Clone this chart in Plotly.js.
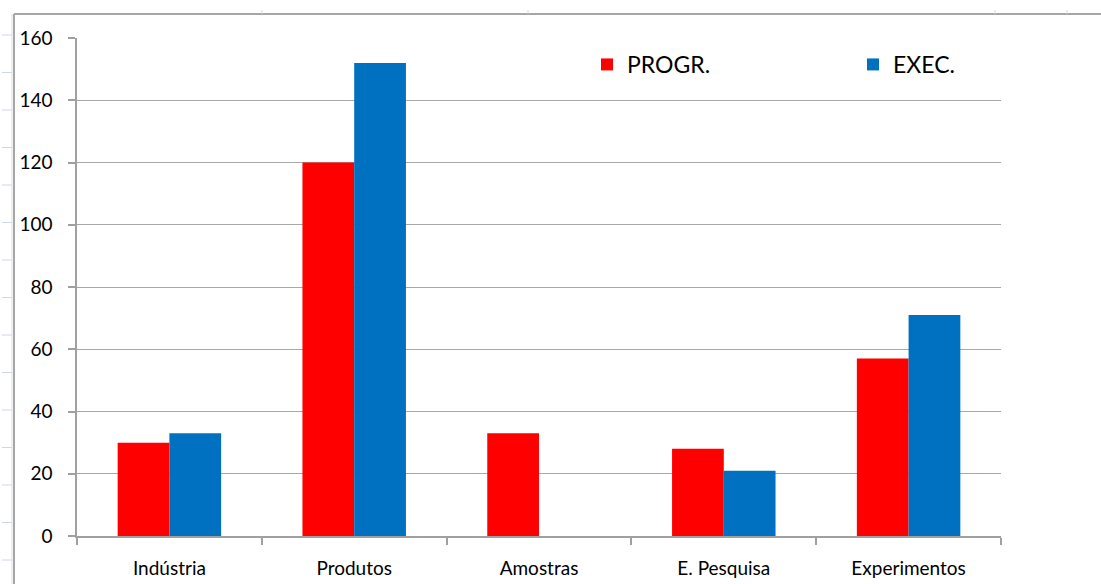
<!DOCTYPE html>
<html><head><meta charset="utf-8">
<script src="https://cdn.plot.ly/plotly-3.0.1.min.js"></script>
<style>html,body{margin:0;padding:0;background:#fff}#c{width:1101px;height:584px}</style>
</head><body><div id="c"></div>
<script>
const categories = ["Indústria", "Produtos", "Amostras", "E. Pesquisa", "Experimentos"];
const progr = [30, 120, 33, 28, 57];
const exec = [33, 152, 0, 21, 71];
const yTicks = [0, 20, 40, 60, 80, 100, 120, 140, 160];

const font = "Lato, 'Open Sans', sans-serif";
const shapes = [
  {type:'line', xref:'paper', yref:'paper', x0:-0.0682, x1:1.11, y0:1.0482, y1:1.0482, line:{color:'#a6a6a6', width:2}},
  {type:'line', xref:'paper', yref:'paper', x0:-0.0682, x1:-0.0682, y0:1.0482, y1:-0.1, line:{color:'#a6a6a6', width:2}},
  {type:'line', xref:'paper', yref:'paper', x0:-0.0704, x1:-0.0704, y0:1.0482, y1:-0.1, line:{color:'#e0e0e8', width:1}}
];
for (let k = 0; k < 15; k++) {
  const yp = 584 - (35 + 37.5 * k);
  const yv = (yp - 48) / 498;
  shapes.push({type:'line', xref:'paper', yref:'paper', x0:-0.0812, x1:-0.0704, y0:yv, y1:yv, line:{color:'#cfd6e4', width:1}});
}
[262, 528, 995, 1067].forEach(px => {
  const xv = (px - 77) / 924;
  shapes.push({type:'line', xref:'paper', yref:'paper', x0:xv, x1:xv, y0:1.0482, y1:1.0562, line:{color:'#cfd6e4', width:1}});
});

const data = [
  {type:'bar', name:'PROGR.', x:categories, y:progr, marker:{color:'#ff0000'}, legend:'legend'},
  {type:'bar', name:'EXEC.', x:categories, y:exec, marker:{color:'#0070c0'}, legend:'legend2'}
];
const legFont = {family:font, size:23, color:'#000'};
const layout = {
  width:1101, height:584,
  margin:{l:77, r:100, t:38, b:48, autoexpand:false},
  paper_bgcolor:'#fff', plot_bgcolor:'#fff',
  barmode:'group', bargap:0.44, bargroupgap:0,
  showlegend:true,
  legend:{x:(587 - 77) / 924, xanchor:'left', y:0.99, yanchor:'top', font:legFont, bgcolor:'rgba(0,0,0,0)'},
  legend2:{x:(853 - 77) / 924, xanchor:'left', y:0.99, yanchor:'top', font:legFont, bgcolor:'rgba(0,0,0,0)'},
  xaxis:{type:'category', showline:true, linecolor:'#a0a0a0', linewidth:1.5, automargin:false,
    ticks:'outside', tickson:'boundaries', ticklen:7, tickcolor:'#a0a0a0', tickwidth:1.5,
    ticklabelstandoff:14,
    showgrid:false, tickfont:{family:font, size:19, color:'#000'}},
  yaxis:{range:[0,160], tickvals:yTicks, showline:true, linecolor:'#a0a0a0', linewidth:1.5, automargin:false,
    ticks:'outside', ticklen:7, tickcolor:'#a0a0a0', tickwidth:1.5, ticklabelstandoff:12,
    showgrid:true, gridcolor:'#a8a8a8', gridwidth:1.2, zeroline:false,
    tickfont:{family:font, size:19, color:'#000'}},
  shapes:shapes
};
Plotly.newPlot('c', data, layout, {displayModeBar:false});
</script>
</body></html>
